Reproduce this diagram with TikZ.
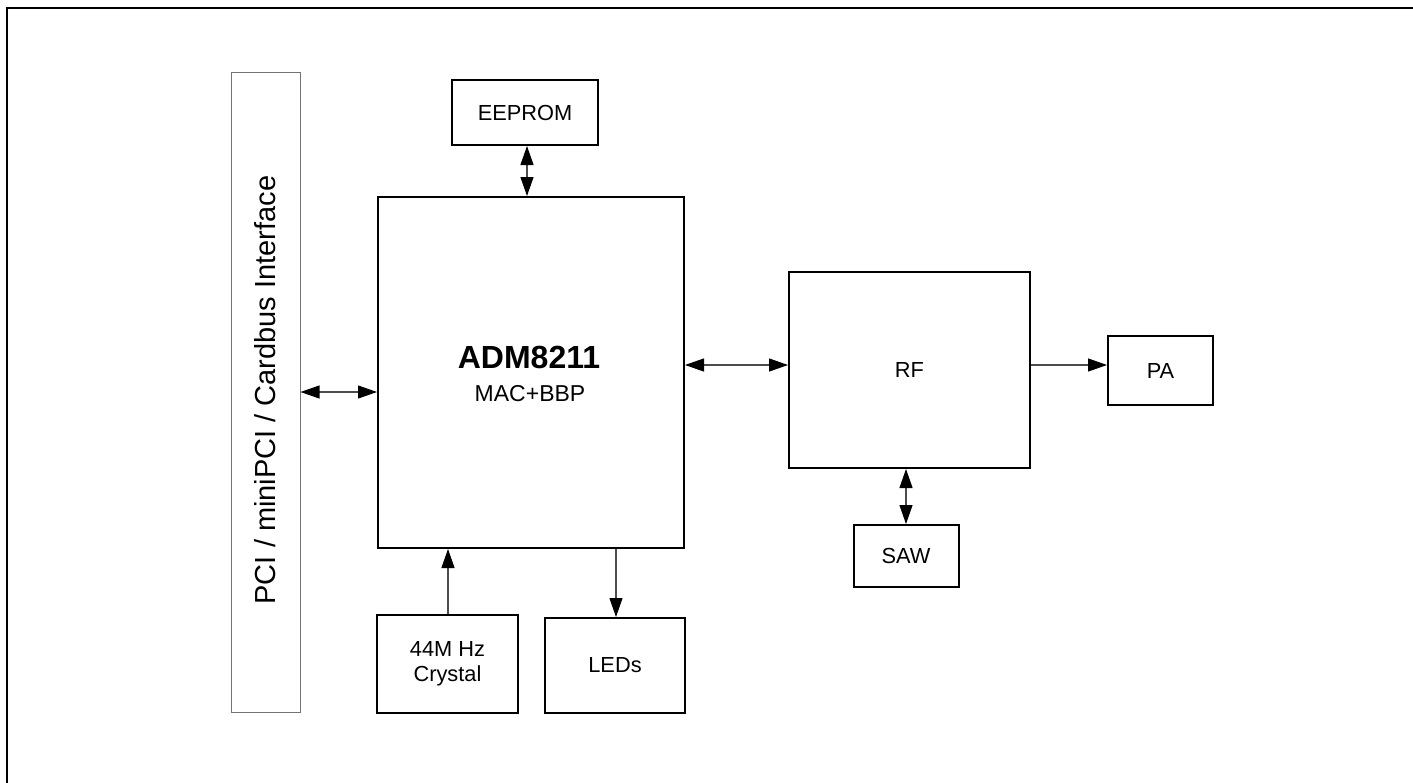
\documentclass[tikz,border=0pt]{standalone}
\usepackage{fontspec}
\setmainfont{Liberation Sans}
\usetikzlibrary{arrows.meta}
\begin{document}
\begin{tikzpicture}[x=0.5pt,y=-0.5pt,
  blk/.style={draw=black,line width=1pt,inner sep=0pt,align=center,font=\fontsize{10.9}{12.5}\selectfont},
  conn/.style={draw=black!70,line width=0.55pt},
  tip/.style={-{Triangle[length=9.5pt,width=6.5pt,fill=black,color=black]}},
  bitip/.style={{Triangle[length=9.5pt,width=6.5pt,fill=black,color=black]}-{Triangle[length=9.5pt,width=6.5pt,fill=black,color=black]}}]
\useasboundingbox (0,0) rectangle (1413,782);
\fill[white] (0,0) rectangle (1413,782);
% outer frame
\draw[line width=1pt] (7,800) -- (7,8) -- (1430,8);
% nodes
\node[draw=black!55,line width=0.5pt,minimum width=34.5pt,minimum height=320pt,inner sep=0pt] (pci) at (265.5,392) {};
\node[rotate=90,font=\fontsize{14.5}{16}\selectfont] (pcit) at (265,390) {PCI / miniPCI / Cardbus Interface};
\node[blk,minimum width=73pt,minimum height=32.5pt] (eeprom) at (525,112.5) {EEPROM};
\node[blk,minimum width=153pt,minimum height=175.5pt] (adm) at (531,372.5) {};
\node[font=\fontsize{16}{17}\selectfont\bfseries] (admt) at (529,357) {ADM8211};
\node[font=\fontsize{11.5}{13}\selectfont] (mact) at (530,393.5) {MAC+BBP};
\node[blk,minimum width=120.5pt,minimum height=98pt] (rf) at (909.5,370) {RF};
\node[blk,minimum width=52.5pt,minimum height=34.5pt] (pa) at (1160.5,370.5) {PA};
\node[blk,minimum width=52.5pt,minimum height=31pt] (saw) at (906,556) {SAW};
\node[blk,minimum width=70.5pt,minimum height=49pt] (crystal) at (447.5,664) {44M Hz\\Crystal};
\node[blk,minimum width=70pt,minimum height=47.5pt] (leds) at (615,665.5) {LEDs};
% connectors
\draw[conn,bitip] (pci.east) -- (pci.east -| adm.west);
\draw[conn,bitip] (eeprom.south -| 527,0) -- (adm.north -| 527,0);
\draw[conn,bitip] (adm.east |- 0,365) -- (rf.west |- 0,365);
\draw[conn,tip] (rf.east |- 0,365) -- (pa.west |- 0,365);
\draw[conn,bitip] (rf.south -| 906,0) -- (saw.north);
\draw[conn,tip] (crystal.north -| 448,0) -- (adm.south -| 448,0);
\draw[conn,tip] (adm.south -| 616,0) -- (leds.north -| 616,0);
\end{tikzpicture}
\end{document}
